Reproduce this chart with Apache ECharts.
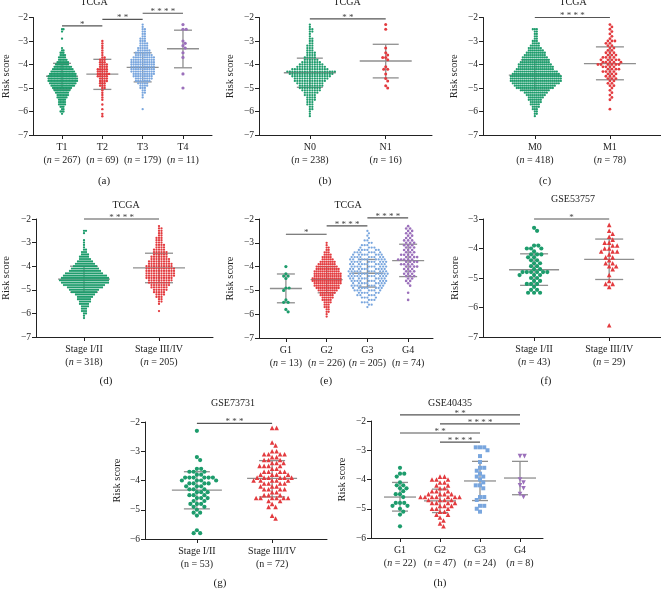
<!DOCTYPE html>
<html><head><meta charset="utf-8">
<script src="https://cdn.jsdelivr.net/npm/echarts@6/dist/echarts.min.js"></script>
<style>html,body{margin:0;padding:0;background:#fff}#c{width:661px;height:591px}</style>
</head><body><div id="c"></div><script>
// ---------- DATA (counts per 0.1 risk-score row, from the top value downwards) ----------
// (a) TCGA, T stage
const aTitle = 'TCGA';
const aCats = ['T1', 'T2', 'T3', 'T4'];
const aN = [267, 69, 179, 11];
const aTops = [-2.5, -3.0, -2.3, -2.3];
const aT1 = [2,1,0,0,1,0,0,0,1,2,3,4,5,6,8,9,12,14,16,18,19,20,20,18,16,13,11,9,8,7,5,5,5,3,2,3,1];
const aT2 = [1,1,1,1,1,1,1,2,3,3,4,4,5,5,6,5,4,4,3,3,2,1,1,1,1,1,0,1,0,1,0,1,1];
const aT3 = [1,1,2,2,2,2,3,3,4,4,5,6,7,8,10,11,11,11,11,11,11,10,9,8,7,5,4,3,2,2,1,1,0,0,0,0,1];
const aT4 = [1,0,2,0,0,0,0,1,1,1,1,0,1,0,1,0,0,0,0,0,0,1,0,0,0,0,0,1];
const aMean = [-4.5, -4.41, -4.12, -3.33];
const aSdHi = [-3.95, -3.78, -3.5, -2.54];
const aSdLo = [-5.05, -5.06, -4.74, -4.14];
const aSig = [[0, 1, -2.36, '*'], [1, 2, -2.08, '**'], [2, 3, -1.82, '****']];

// (b) TCGA, N stage
const bTitle = 'TCGA';
const bCats = ['N0', 'N1'];
const bN = [238, 16];
const bTops = [-2.3, -2.3];
const bN0 = [1,1,2,2,1,1,2,2,2,3,3,3,4,4,5,6,8,10,12,15,20,18,16,14,13,11,10,9,8,6,5,4,4,3,3,2,2,1,1,1];
const bN1 = [1,0,1,0,0,0,0,0,0,0,1,0,1,1,2,1,0,0,1,2,0,1,0,1,1,0,1,1];
const bMean = [-4.35, -3.85];
const bSdHi = [-3.73, -3.14];
const bSdLo = [-4.97, -4.57];
const bSig = [[0, 1, -2.06, '**']];

// (c) TCGA, M stage
const cTitle = 'TCGA';
const cCats = ['M0', 'M1'];
const cN = [418, 78];
const cTops = [-2.5, -2.3];
const cM0 = [3,2,2,2,2,3,4,5,7,8,10,11,13,14,15,17,18,19,22,24,26,26,26,24,21,19,15,12,10,8,7,6,5,4,3,2,2,1];
const cM1 = [1,1,1,1,1,1,1,3,2,2,2,2,3,3,4,5,5,6,4,4,4,3,3,3,2,2,2,1,1,1,1,1,1,0,0,0,1];
const cMean = [-4.45, -3.96];
const cSdHi = [-3.8, -3.25];
const cSdLo = [-5.1, -4.65];
const cSig = [[0, 1, -2.0, '****']];

// (d) TCGA, stage
const dTitle = 'TCGA';
const dCats = ['Stage I/II', 'Stage III/IV'];
const dN = [318, 205];
const dTops = [-2.5, -2.3];
const dS12 = [2,1,0,0,1,1,1,1,2,3,4,5,6,8,10,12,14,16,19,22,24,25,24,21,18,15,13,10,8,7,6,5,4,3,3,2,1,1];
const dS34 = [1,2,2,2,2,3,3,3,4,4,5,6,6,7,8,9,10,11,12,12,12,12,11,10,9,8,7,6,5,4,3,2,2,1,0,0,1];
const dMean = [-4.55, -4.07];
const dSdHi = [-4.0, -3.45];
const dSdLo = [-5.1, -4.7];
const dSig = [[0, 1, -2.0, '****']];

// (e) TCGA, grade
const eTitle = 'TCGA';
const eCats = ['G1', 'G2', 'G3', 'G4'];
const eN = [13, 226, 205, 74];
const eTops = [-4.0, -3.0, -2.5, -2.3];
const eG1 = [1,0,0,1,2,1,0,0,0,2,1,0,0,0,1,2,0,0,1,1];
const eG2 = [1,1,2,2,3,4,5,6,8,9,11,12,13,14,14,15,15,14,13,12,10,8,7,6,5,4,3,3,2,2,1,1];
const eG3 = [1,1,1,1,2,2,3,4,6,7,8,9,10,10,10,10,10,11,11,11,10,10,9,9,8,7,6,5,4,3,3,2,1];
const eG4 = [1,2,2,2,2,2,3,3,3,3,3,3,4,4,5,4,4,4,3,3,3,3,2,2,1,1,0,0,1,0,0,1];
const eMean = [-4.92, -4.55, -4.28, -3.75];
const eSdHi = [-4.31, -4.0, -3.7, -3.06];
const eSdLo = [-5.52, -5.1, -4.86, -4.42];
const eSig = [[0, 1, -2.64, '*'], [1, 2, -2.29, '****'], [2, 3, -1.95, '****']];

// (f) GSE53757, stage
const fTitle = 'GSE53757';
const fCats = ['Stage I/II', 'Stage III/IV'];
const fN = [43, 29];
const fTops = [-3.3, -3.2];
const fS12 = [1,1,0,0,0,0,2,3,1,3,2,2,2,2,2,6,3,2,2,3,1,2,3];
const fS34 = [1,0,1,1,1,1,2,2,2,3,1,2,1,2,2,1,0,1,0,1,2,1,0,0,0,0,0,0,0,0,0,0,0,0,1];
const fMean = [-4.72, -4.37];
const fSdHi = [-4.18, -3.68];
const fSdLo = [-5.25, -5.05];
const fSig = [[0, 1, -3.0, '*']];

// (g) GSE73731, stage
const gTitle = 'GSE73731';
const gCats = ['Stage I/II', 'Stage III/IV'];
const gN = [53, 72];
const gTops = [-2.3, -2.2];
const gS12 = [1,0,0,0,0,0,0,0,0,1,1,0,0,2,3,2,6,4,4,3,3,3,3,3,2,3,2,1,2,1,0,0,0,0,1,2];
const gS34 = [2,0,0,0,0,1,1,0,2,4,2,3,3,4,2,4,4,6,5,4,3,4,2,3,6,2,1,2,0,0,1,1];
const gMean = [-4.33, -3.93];
const gSdHi = [-3.7, -3.32];
const gSdLo = [-4.97, -4.56];
const gSig = [[0, 1, -2.05, '***']];

// (h) GSE40435, grade
const hTitle = 'GSE40435';
const hCats = ['G1', 'G2', 'G3', 'G4'];
const hN = [22, 47, 24, 8];
const hTops = [-3.6, -3.9, -2.9, -3.2];
const hG1 = [1,0,2,1,0,1,2,2,1,2,1,0,3,2,1,1,1,0,0,0,1];
const hG2 = [2,3,2,2,2,3,4,7,4,4,3,3,2,2,1,1,1,1];
const hG3 = [3,1,0,1,0,1,0,2,1,1,2,1,1,2,1,0,0,2,1,0,2,1,1];
const hG4 = [2,0,0,0,0,0,0,0,1,1,1,1,0,1,1];
const hMean = [-4.6, -4.73, -4.05, -3.95];
const hSdHi = [-4.1, -4.33, -3.38, -3.38];
const hSdLo = [-5.08, -5.13, -4.72, -4.52];
const hSig = [[0, 3, -1.79, '**'], [1, 3, -2.1, '****'], [0, 2, -2.41, '**'], [1, 2, -2.72, '****']];

// ---------- STYLE / LAYOUT ----------
const FONT = '"Liberation Serif","Times New Roman",serif';
const C = {g: '#1d9c6c', r: '#e33b3f', b: '#79a6de', p: '#9b70bb'};
const GRAY = '#8f8f8f';
const AX = '#222';

const panels = [
  {title: aTitle, cats: aCats, n: aN, tops: aTops, groups: [aT1, aT2, aT3, aT4], mean: aMean, hi: aSdHi, lo: aSdLo, sig: aSig,
   L: 33, T: 17.5, W: 179, H: 117.5, xMin: -0.72, xMax: 3.72, yMin: -7, yMax: -2,
   color: [C.g, C.r, C.b, C.p], sym: ['circle', 'circle', 'circle', 'circle'], rot: [0, 0, 0, 0],
   size: [2.3, 2.4, 2.3, 3.2], dist: [1.5, 2.2, 2.1, 3.2], tx: 94, ty: 2, lx: 104, ly: 181, nx: 6, ital: true, mh: 16, sh: 9},
  {title: bTitle, cats: bCats, n: bN, tops: bTops, groups: [bN0, bN1], mean: bMean, hi: bSdHi, lo: bSdLo, sig: bSig,
   L: 259, T: 17.5, W: 173, H: 117.5, xMin: -0.67, xMax: 1.61, yMin: -7, yMax: -2,
   color: [C.g, C.r], sym: ['circle', 'circle'], rot: [0, 0],
   size: [2.3, 3], dist: [2.3, 3], tx: 347, ty: 2, lx: 325, ly: 181, nx: 230, ital: true, mh: 26, sh: 13},
  {title: cTitle, cats: cCats, n: cN, tops: cTops, groups: [cM0, cM1], mean: cMean, hi: cSdHi, lo: cSdLo, sig: cSig,
   L: 483, T: 17.5, W: 178, H: 117.5, xMin: -0.69, xMax: 1.68, yMin: -7, yMax: -2,
   color: [C.g, C.r], sym: ['circle', 'circle'], rot: [0, 0],
   size: [2.3, 2.8], dist: [2.0, 3], tx: 573, ty: 2, lx: 545, ly: 181, nx: 454, ital: true, mh: 26, sh: 14},
  {title: dTitle, cats: dCats, n: dN, tops: dTops, groups: [dS12, dS34], mean: dMean, hi: dSdHi, lo: dSdLo, sig: dSig,
   L: 36, T: 219, W: 177, H: 118, xMin: -0.64, xMax: 1.72, yMin: -7, yMax: -2,
   color: [C.g, C.r], sym: ['circle', 'circle'], rot: [0, 0],
   size: [2.3, 2.3], dist: [2.0, 2.3], tx: 126, ty: 205, lx: 106, ly: 381, nx: 6, ital: true, mh: 26, sh: 14},
  {title: eTitle, cats: eCats, n: eN, tops: eTops, groups: [eG1, eG2, eG3, eG4], mean: eMean, hi: eSdHi, lo: eSdLo, sig: eSig,
   L: 259, T: 219, W: 174, H: 119, xMin: -0.66, xMax: 3.61, yMin: -7, yMax: -2,
   color: [C.g, C.r, C.b, C.p], sym: ['circle', 'circle', 'circle', 'circle'], rot: [0, 0, 0, 0],
   size: [3.2, 2.3, 2.3, 2.6], dist: [3.2, 2.0, 2.7, 3.0], tx: 348, ty: 205, lx: 326, ly: 381, nx: 230, ital: true, mh: 16, sh: 9},
  {title: fTitle, cats: fCats, n: fN, tops: fTops, groups: [fS12, fS34], mean: fMean, hi: fSdHi, lo: fSdLo, sig: fSig,
   L: 483, T: 219, W: 178, H: 118, xMin: -0.68, xMax: 1.69, yMin: -7, yMax: -3,
   color: [C.g, C.r], sym: ['circle', 'triangle'], rot: [0, 0],
   size: [4.2, 4.6], dist: [4.2, 4.4], tx: 573, ty: 199, lx: 546, ly: 381, nx: 455, ital: true, mh: 25, sh: 14},
  {title: gTitle, cats: gCats, n: gN, tops: gTops, groups: [gS12, gS34], mean: gMean, hi: gSdHi, lo: gSdLo, sig: gSig,
   L: 145, T: 422, W: 182, H: 117, xMin: -0.69, xMax: 1.73, yMin: -6, yMax: -2,
   color: [C.g, C.r], sym: ['circle', 'triangle'], rot: [0, 0],
   size: [4.2, 4.6], dist: [4.2, 4.4], tx: 233, ty: 403, lx: 220, ly: 583, nx: 117, ital: false, mh: 25, sh: 13},
  {title: hTitle, cats: hCats, n: hN, tops: hTops, groups: [hG1, hG2, hG3, hG4], mean: hMean, hi: hSdHi, lo: hSdLo, sig: hSig,
   L: 371, T: 421, W: 172, H: 117, xMin: -0.725, xMax: 3.575, yMin: -6, yMax: -2,
   color: [C.g, C.r, C.b, C.p], sym: ['circle', 'triangle', 'rect', 'triangle'], rot: [0, 0, 0, 180],
   size: [4.2, 4.6, 4.0, 4.6], dist: [4.2, 4.4, 4.2, 4.4], tx: 450, ty: 403, lx: 440, ly: 583, nx: 342, ital: true, mh: 16, sh: 8}
];
const letters = ['(a)', '(b)', '(c)', '(d)', '(e)', '(f)', '(g)', '(h)'];

// expand row counts into values (row value = top - i*0.1)
function expand(top, counts) {
  const v = [];
  counts.forEach((c, i) => { const y = Math.round((top - i * 0.1) * 100) / 100; for (let k = 0; k < c; k++) v.push(y); });
  return v;
}
// simple beeswarm layout (pixel based), returns [x, y] in axis units
function swarm(vals, cat, pxX, pxY, d) {
  const placed = [], out = [];
  vals.forEach(v => {
    const yp = v * pxY;
    let off = 0;
    for (let s = 0; s < 2000; s++) {
      const cand = s === 0 ? 0 : (s % 2 ? 1 : -1) * Math.ceil(s / 2) * 0.25;
      let ok = true;
      for (const q of placed) {
        const dy = q[1] - yp;
        if (Math.abs(dy) >= d) continue;
        const dx = q[0] - cand;
        if (dx * dx + dy * dy < d * d - 1e-9) { ok = false; break; }
      }
      if (ok) { off = cand; break; }
    }
    placed.push([off, yp]);
    out.push([cat + off / pxX, v]);
  });
  return out;
}

const grid = [], xAxis = [], yAxis = [], series = [], graphic = [];
const minus = v => (v < 0 ? '\u2212' : '') + Math.abs(v);

panels.forEach((p, i) => {
  grid.push({left: p.L, top: p.T, width: p.W, height: p.H, containLabel: false});
  const pxX = p.W / (p.xMax - p.xMin), pxY = p.H / (p.yMax - p.yMin);
  const idx = p.cats.map((_, k) => k);
  const rich = {
    c: {fontFamily: FONT, fontSize: 10, lineHeight: 13, color: '#222'},
    s: {fontFamily: FONT, fontSize: 10, lineHeight: 13, color: '#222'},
    i: {fontFamily: FONT, fontSize: 10, lineHeight: 13, color: '#222', fontStyle: p.ital ? 'italic' : 'normal'}
  };
  xAxis.push({
    gridIndex: i, type: 'value', min: p.xMin, max: p.xMax,
    axisLine: {show: true, onZero: false, lineStyle: {color: AX, width: 1}},
    axisTick: {show: true, customValues: idx, length: 4, lineStyle: {color: AX, width: 1}},
    axisLabel: {customValues: idx, margin: 6, rich: rich,
      formatter: v => { const k = Math.round(v); return '{c|' + p.cats[k] + '}\n{s|(}{i|n}{s| = ' + p.n[k] + ')}'; }},
    splitLine: {show: false}
  });
  yAxis.push({
    gridIndex: i, type: 'value', min: p.yMin, max: p.yMax, interval: 1,
    axisLine: {show: true, onZero: false, lineStyle: {color: AX, width: 1}},
    axisTick: {show: true, length: 4, lineStyle: {color: AX, width: 1}},
    axisLabel: {formatter: minus, margin: 5, fontFamily: FONT, fontSize: 9.5, color: '#222'},
    splitLine: {show: false}
  });
  // mean +/- SD
  series.push({
    type: 'custom', xAxisIndex: i, yAxisIndex: i, z: 1, silent: true, clip: false,
    data: idx.map(k => [k, p.mean[k], p.hi[k], p.lo[k]]),
    encode: {x: 0, y: 1},
    renderItem: (params, api) => {
      const m = api.coord([api.value(0), api.value(1)]);
      const h = api.coord([api.value(0), api.value(2)]);
      const l = api.coord([api.value(0), api.value(3)]);
      const st = {stroke: GRAY, lineWidth: 1.3};
      return {type: 'group', children: [
        {type: 'line', shape: {x1: m[0] - p.mh, y1: m[1], x2: m[0] + p.mh, y2: m[1]}, style: st},
        {type: 'line', shape: {x1: h[0] - p.sh, y1: h[1], x2: h[0] + p.sh, y2: h[1]}, style: st},
        {type: 'line', shape: {x1: l[0] - p.sh, y1: l[1], x2: l[0] + p.sh, y2: l[1]}, style: st},
        {type: 'line', shape: {x1: h[0], y1: h[1], x2: l[0], y2: l[1]}, style: st}
      ]};
    }
  });
  // points
  p.groups.forEach((g, k) => {
    series.push({
      type: 'scatter', xAxisIndex: i, yAxisIndex: i, z: 3, silent: true,
      symbol: p.sym[k], symbolRotate: p.rot[k], symbolSize: p.size[k],
      itemStyle: {color: p.color[k], opacity: 1},
      data: swarm(expand(p.tops[k], g), k, pxX, pxY, p.dist[k])
    });
  });
  // significance brackets
  series.push({
    type: 'custom', xAxisIndex: i, yAxisIndex: i, z: 4, silent: true, clip: false,
    data: p.sig.map((s, k) => [s[0], s[2], s[1], k]),
    encode: {x: 0, y: 1},
    renderItem: (params, api) => {
      const a = api.coord([api.value(0), api.value(1)]);
      const b = api.coord([api.value(2), api.value(1)]);
      const lab = p.sig[api.value(3)][3].split('').join(' ');
      return {type: 'group', children: [
        {type: 'line', shape: {x1: a[0], y1: a[1], x2: b[0], y2: b[1]}, style: {stroke: '#555', lineWidth: 1.2}},
        {type: 'text', x: (a[0] + b[0]) / 2, y: a[1] - 1.5,
         style: {text: lab, fill: '#444', font: '9px ' + FONT, textAlign: 'center', textVerticalAlign: 'middle', align: 'center', verticalAlign: 'middle'}}
      ]};
    }
  });
  // title, y name, panel letter
  graphic.push({type: 'text', x: p.tx, y: p.ty, silent: true,
    style: {text: p.title, fill: '#222', font: '10px ' + FONT, textAlign: 'center', textVerticalAlign: 'middle', align: 'center', verticalAlign: 'middle'}});
  graphic.push({type: 'text', x: p.nx, y: p.T + p.H / 2, rotation: Math.PI / 2, silent: true,
    style: {text: 'Risk score', fill: '#222', font: '10.5px ' + FONT, textAlign: 'center', textVerticalAlign: 'middle', align: 'center', verticalAlign: 'middle'}});
  graphic.push({type: 'text', x: p.lx, y: p.ly, silent: true,
    style: {text: letters[i], fill: '#222', font: '11px ' + FONT, textAlign: 'center', textVerticalAlign: 'middle', align: 'center', verticalAlign: 'middle'}});
});

const chart = echarts.init(document.getElementById('c'), null, {renderer: 'canvas'});
chart.setOption({animation: false, backgroundColor: '#fff', grid, xAxis, yAxis, series, graphic});
</script></body></html>
